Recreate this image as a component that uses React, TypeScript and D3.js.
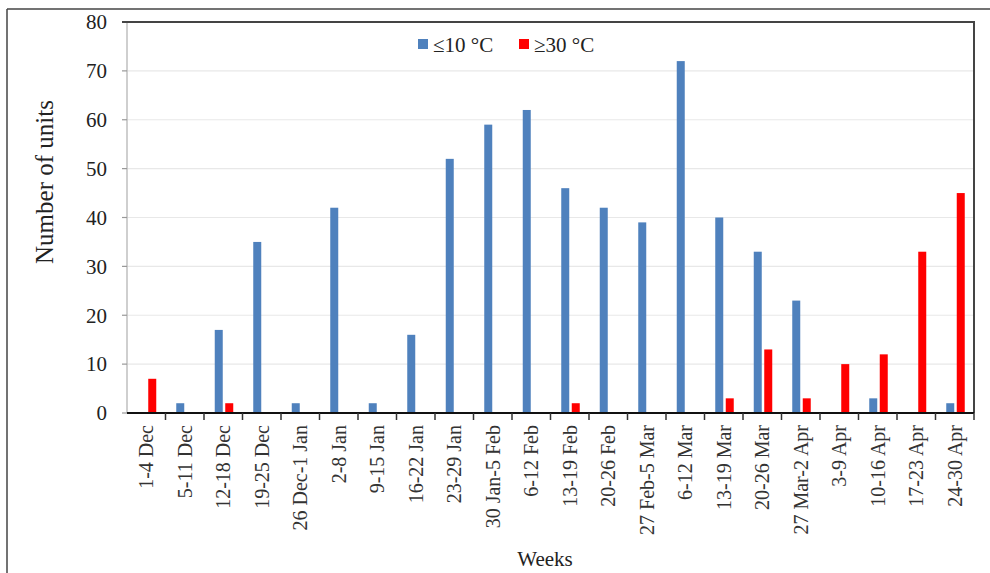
import React from "react";
import * as d3 from "d3";

const categories = [
  "1-4 Dec", "5-11 Dec", "12-18 Dec", "19-25 Dec", "26 Dec-1 Jan", "2-8 Jan",
  "9-15 Jan", "16-22 Jan", "23-29 Jan", "30 Jan-5 Feb", "6-12 Feb", "13-19 Feb",
  "20-26 Feb", "27 Feb-5 Mar", "6-12 Mar", "13-19 Mar", "20-26 Mar", "27 Mar-2 Apr",
  "3-9 Apr", "10-16 Apr", "17-23 Apr", "24-30 Apr",
];
const coldValues = [0, 2, 17, 35, 2, 42, 2, 16, 52, 59, 62, 46, 42, 39, 72, 40, 33, 23, 0, 3, 0, 2];
const hotValues = [7, 0, 2, 0, 0, 0, 0, 0, 0, 0, 0, 2, 0, 0, 0, 3, 13, 3, 10, 12, 33, 45];
const yTicks = [0, 10, 20, 30, 40, 50, 60, 70, 80];
const seriesNames = ["≤10 °C", "≥30 °C"];

const W = 990;
const H = 573;
const L = 127, R = 974, T = 22, B = 413;
const BLUE = "#4F81BD";
const RED = "#FF0000";
const FONT = "'Liberation Serif', 'Times New Roman', serif";

export default function App() {
  const x = d3.scaleBand<string>().domain(categories).range([L, R]).padding(0);
  const y = d3.scaleLinear().domain([0, 80]).range([B, T]);
  const bw = x.bandwidth();
  const center = (c: string) => (x(c) as number) + bw / 2;
  const barW = 8;

  return (
    <svg width={W} height={H} style={{ position: "absolute", left: 0, top: 0, background: "#fff" }}>
      <rect x={0} y={0} width={W} height={H} fill="#fff" />
      {/* outer frame */}
      <line x1={7} y1={9} x2={W} y2={9} stroke="#444" strokeWidth={1.5} />
      <line x1={7} y1={9} x2={7} y2={H} stroke="#444" strokeWidth={1.5} />

      {/* gridlines */}
      {yTicks.filter((t) => t > 0 && t < 80).map((t) => (
        <line key={"g" + t} x1={L} x2={R} y1={y(t)} y2={y(t)} stroke="#e8e8e8" strokeWidth={1.2} />
      ))}

      {/* bars */}
      {categories.map((c, i) => (
        <g key={c}>
          {coldValues[i] > 0 && (
            <rect x={center(c) - 8.5} y={y(coldValues[i])} width={barW} height={B - y(coldValues[i])} fill={BLUE} />
          )}
          {hotValues[i] > 0 && (
            <rect x={center(c) + 2} y={y(hotValues[i])} width={barW} height={B - y(hotValues[i])} fill={RED} />
          )}
        </g>
      ))}

      {/* left axis */}
      <line x1={L} x2={L} y1={T} y2={B} stroke="#bfbfbf" strokeWidth={1.5} />
      {yTicks.map((t) => (
        <g key={"y" + t}>
          <line x1={L - 5} x2={L} y1={y(t)} y2={y(t)} stroke="#999" strokeWidth={1.2} />
          <text x={107} y={y(t)} dy="0.35em" textAnchor="end" fontFamily={FONT} fontSize={21} fill="#222">
            {t}
          </text>
        </g>
      ))}

      {/* frame top and right */}
      <line x1={L - 5} x2={R + 1} y1={T} y2={T} stroke="#444" strokeWidth={2} />
      <line x1={R} x2={R} y1={T} y2={B} stroke="#444" strokeWidth={2} />

      {/* bottom axis */}
      <line x1={L} x2={R} y1={B} y2={B} stroke="#111" strokeWidth={2} />
      {categories.map((c) => (
        <line key={"t" + c} x1={(x(c) as number) + bw} x2={(x(c) as number) + bw} y1={B} y2={B + 7} stroke="#333" strokeWidth={1.5} />
      ))}
      {categories.map((c) => (
        <text
          key={"l" + c}
          transform={`translate(${center(c)},${B + 12}) rotate(-90)`}
          dy="0.35em"
          textAnchor="end"
          fontFamily={FONT}
          fontSize={20}
          fill="#333"
        >
          {c}
        </text>
      ))}

      {/* axis titles */}
      <text x={545} y={566} textAnchor="middle" fontFamily={FONT} fontSize={21} fill="#222">Weeks</text>
      <text transform={`translate(53,182) rotate(-90)`} textAnchor="middle" fontFamily={FONT} fontSize={25} fill="#222">
        Number of units
      </text>

      {/* legend */}
      <rect x={418} y={39} width={10} height={10} fill={BLUE} />
      <text x={433} y={52} fontFamily={FONT} fontSize={21} fill="#222">{seriesNames[0]}</text>
      <rect x={519} y={39} width={10} height={10} fill={RED} />
      <text x={534} y={52} fontFamily={FONT} fontSize={21} fill="#222">{seriesNames[1]}</text>
    </svg>
  );
}
